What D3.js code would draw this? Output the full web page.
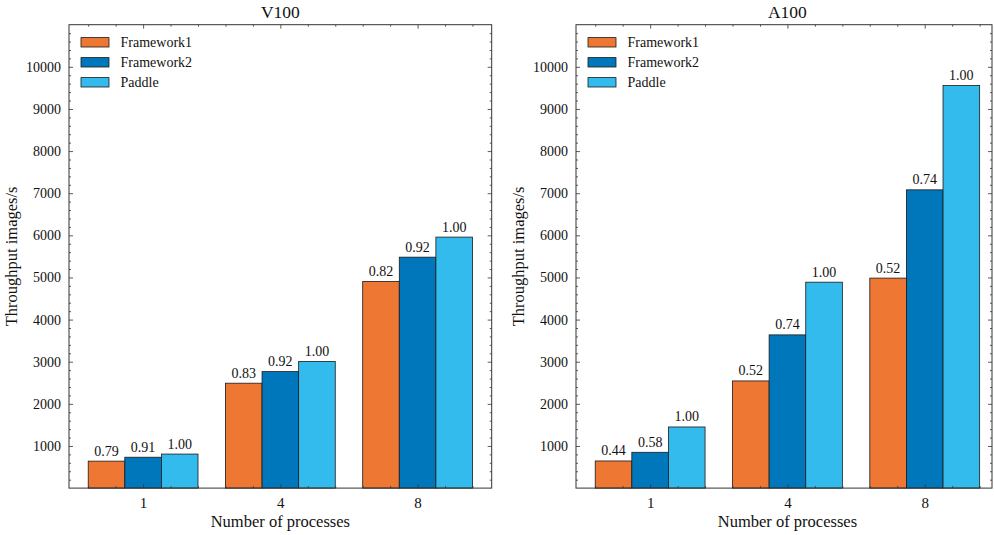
<!DOCTYPE html>
<html>
<head>
<meta charset="utf-8">
<script src="https://cdn.jsdelivr.net/npm/d3@7/dist/d3.min.js"></script>
<style>
  html, body { margin: 0; padding: 0; background: #fff; }
  svg text { font-family: "Liberation Serif", "DejaVu Serif", serif; fill: #111; }
</style>
</head>
<body>
<svg id="chart" width="994" height="535"></svg>
<script>
// ---- data ----
const categories = ["1", "4", "8"];
const seriesNames = ["Framework1", "Framework2", "Paddle"];
const seriesColors = ["#EE7733", "#0077BB", "#33BBEE"];
const v100Framework1 = [640, 2490, 4905];
const v100Framework2 = [733, 2765, 5482];
const v100Paddle = [808, 3005, 5958];
const v100Ratios = [["0.79", "0.83", "0.82"], ["0.91", "0.92", "0.92"], ["1.00", "1.00", "1.00"]];
const a100Framework1 = [644, 2544, 4985];
const a100Framework2 = [850, 3637, 7080];
const a100Paddle = [1451, 4888, 9555];
const a100Ratios = [["0.44", "0.52", "0.52"], ["0.58", "0.74", "0.74"], ["1.00", "1.00", "1.00"]];
const yTicks = [1000, 2000, 3000, 4000, 5000, 6000, 7000, 8000, 9000, 10000];
const yMax = 11000;
const titles = ["V100", "A100"];
const xLabel = "Number of processes";
const yLabel = "Throughput images/s";

const panels = [
  { title: titles[0], series: [v100Framework1, v100Framework2, v100Paddle], ratios: v100Ratios, x0: 69, x1: 491.7, xmax: 2.54 },
  { title: titles[1], series: [a100Framework1, a100Framework2, a100Paddle], ratios: a100Ratios, x0: 576, x1: 992, xmax: 2.49 }
];

const svg = d3.select("#chart");
const plotTop = 24.7, plotBottom = 488.1;
const barW = 0.8 / 3;

panels.forEach(p => {
  const g = svg.append("g");
  const x = d3.scaleLinear().domain([-0.54, p.xmax]).range([p.x0, p.x1]);
  const y = d3.scaleLinear().domain([0, yMax]).range([plotBottom, plotTop]);

  // bars
  p.series.forEach((vals, si) => {
    const off = (si - 1) * barW;
    g.selectAll(null).data(vals).enter().append("rect")
      .attr("x", (d, i) => x(i + off - barW / 2))
      .attr("width", x(barW) - x(0))
      .attr("y", d => y(d))
      .attr("height", d => y(0) - y(d))
      .attr("fill", seriesColors[si])
      .attr("stroke", "#1a1a1a")
      .attr("stroke-width", 0.8);
    g.selectAll(null).data(vals).enter().append("text")
      .attr("x", (d, i) => x(i + off))
      .attr("y", d => y(d) - 5.5)
      .attr("text-anchor", "middle")
      .attr("font-size", "14px")
      .text((d, i) => p.ratios[si][i]);
  });

  // axes
  const minorY = d3.range(200, yMax, 200).filter(v => v % 1000 !== 0);
  const majorX = [0, 1, 2];
  const minorX = d3.range(-0.4, 2.41, 0.2).map(v => Math.round(v * 10) / 10).filter(v => Math.abs(v - Math.round(v)) > 1e-6);

  const axL = d3.axisLeft(y).tickValues(yTicks).tickSizeInner(-4).tickSizeOuter(0).tickPadding(8).tickFormat(d3.format("d"));
  const axLm = d3.axisLeft(y).tickValues(minorY).tickSizeInner(-2).tickSizeOuter(0).tickFormat("");
  const axR = d3.axisRight(y).tickValues(yTicks).tickSizeInner(-4).tickSizeOuter(0).tickFormat("");
  const axRm = d3.axisRight(y).tickValues(minorY).tickSizeInner(-2).tickSizeOuter(0).tickFormat("");
  const axB = d3.axisBottom(x).tickValues(majorX).tickSizeInner(-4).tickSizeOuter(0).tickPadding(9).tickFormat(i => categories[i]);
  const axBm = d3.axisBottom(x).tickValues(minorX).tickSizeInner(-2).tickSizeOuter(0).tickFormat("");
  const axT = d3.axisTop(x).tickValues(majorX).tickSizeInner(-4).tickSizeOuter(0).tickFormat("");
  const axTm = d3.axisTop(x).tickValues(minorX).tickSizeInner(-2).tickSizeOuter(0).tickFormat("");

  const place = (ax, tx, ty) => {
    const a = g.append("g").attr("transform", `translate(${tx},${ty})`).call(ax);
    a.select(".domain").remove();
    a.selectAll("line").attr("stroke", "#333").attr("stroke-width", 0.8);
    a.selectAll("text").attr("font-size", "14px").attr("fill", "#111");
    return a;
  };
  place(axL, p.x0, 0); place(axLm, p.x0, 0);
  place(axR, p.x1, 0); place(axRm, p.x1, 0);
  const b = place(axB, 0, plotBottom); b.selectAll("text").attr("font-size", "15px");
  place(axBm, 0, plotBottom);
  place(axT, 0, plotTop); place(axTm, 0, plotTop);

  // frame
  g.append("rect").attr("x", p.x0).attr("y", plotTop).attr("width", p.x1 - p.x0).attr("height", plotBottom - plotTop)
    .attr("fill", "none").attr("stroke", "#333").attr("stroke-width", 1);

  // title and labels
  const cx = (x(-0.54) + x(2.54)) / 2;
  g.append("text").attr("x", cx).attr("y", 18).attr("text-anchor", "middle")
    .attr("font-size", "17.5px").text(p.title);
  g.append("text").attr("x", cx).attr("y", 527).attr("text-anchor", "middle")
    .attr("font-size", "16.5px").text(xLabel);
  g.append("text").attr("transform", `translate(${p.x0 - 52},${(plotTop + plotBottom) / 2}) rotate(-90)`)
    .attr("text-anchor", "middle").attr("font-size", "16.5px").text(yLabel);

  // legend
  const lg = g.append("g").attr("transform", `translate(${p.x0 + 12},0)`);
  seriesNames.forEach((n, i) => {
    const cy = 42.3 + i * 20;
    lg.append("rect").attr("x", 0).attr("y", cy - 4.7).attr("width", 28).attr("height", 9.4)
      .attr("fill", seriesColors[i]).attr("stroke", "#1a1a1a").attr("stroke-width", 0.8);
    lg.append("text").attr("x", 39.5).attr("y", cy + 4.8).attr("font-size", "14px").text(n);
  });
});
</script>
</body>
</html>
